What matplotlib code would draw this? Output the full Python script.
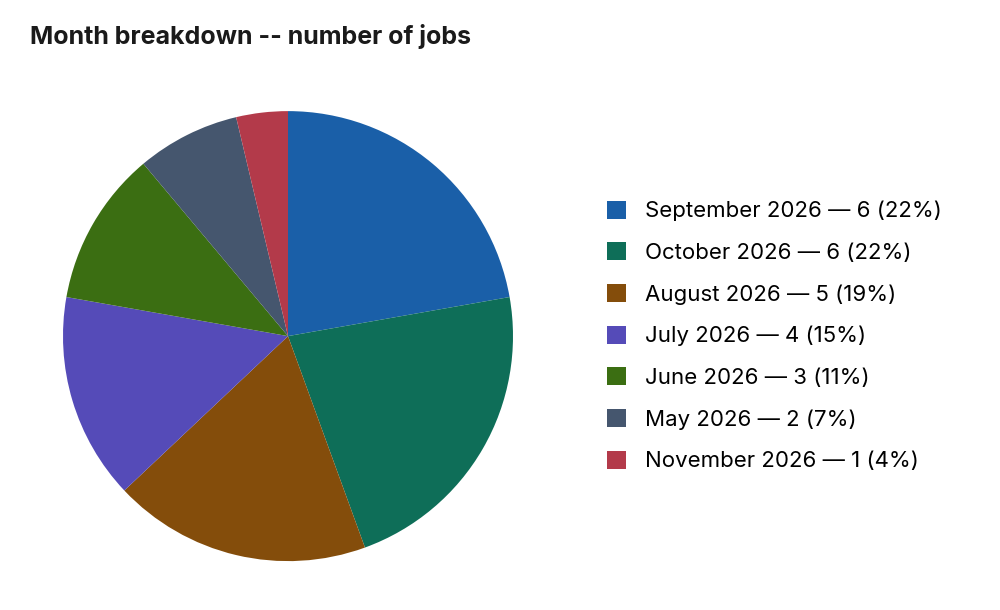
import matplotlib
matplotlib.use("Agg")
import matplotlib.pyplot as plt

months = ["September 2026", "October 2026", "August 2026", "July 2026",
          "June 2026", "May 2026", "November 2026"]
counts = [6, 6, 5, 4, 3, 2, 1]
colors = ["#1a5fa8", "#0e6e58", "#844d0b", "#554bb8", "#3b6e12", "#45566e", "#b33a4a"]

plt.rcParams['font.family'] = ['Inter', 'DejaVu Sans']
fig = plt.figure(figsize=(10, 6.1), dpi=100)
ax = fig.add_axes([0.063, 0.080, 0.45, 0.738])
wedges, _ = ax.pie(counts, colors=colors, startangle=90, counterclock=False,
                   wedgeprops=dict(edgecolor="none", linewidth=0))
ax.set_xlim(-1, 1)
ax.set_ylim(-1, 1)
ax.set_aspect('equal')
total = sum(counts)
labels = [f"{m} \u2014 {c} ({round(100*c/total)}%)" for m, c in zip(months, counts)]
fig.legend(wedges, labels, loc="center left", bbox_to_anchor=(0.596, 0.449),
           frameon=False, fontsize=16, handlelength=0.85, handleheight=0.85,
           labelspacing=0.95, handletextpad=0.85, borderpad=0)
fig.text(0.03, 0.94, "Month breakdown -- number of jobs", fontsize=18,
         fontweight="bold", color="#1a1a1a", va="center")
fig.savefig("out.png", dpi=100)
